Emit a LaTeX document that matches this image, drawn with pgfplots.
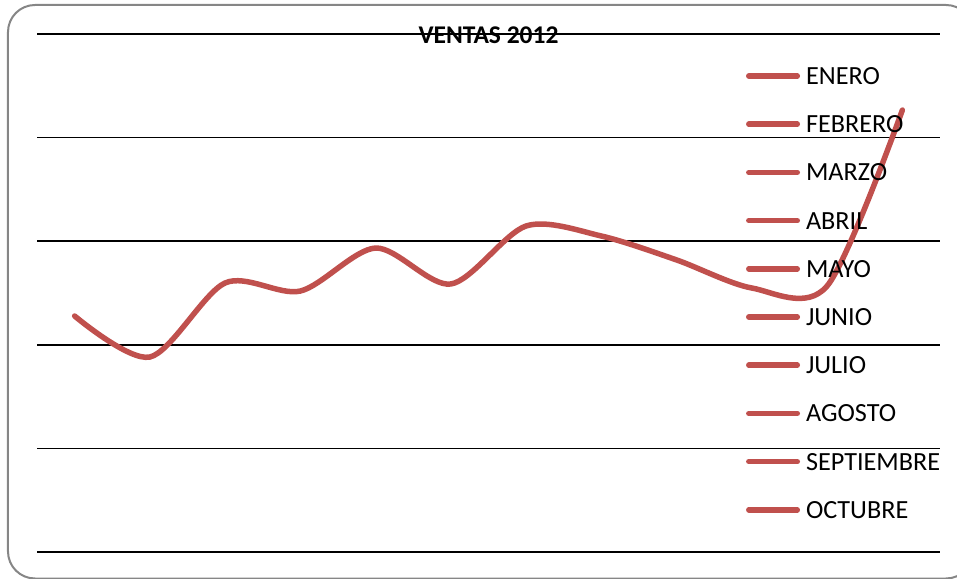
\documentclass[border=0pt]{standalone}
\usepackage{pgfplots}
\pgfplotsset{compat=1.18}
\usepackage{fontspec}
\setmainfont{Carlito}

\definecolor{serie}{HTML}{C0504D}
\definecolor{marco}{HTML}{868686}

\begin{document}
\begin{tikzpicture}[x=1pt,y=1pt]
% chart frame (rounded, partly outside the page on the right and bottom)
\begin{scope}
  \clip (-37,-26) rectangle (920,552);
  \draw[marco, line width=2pt, rounded corners=27pt] (-29,-26.5) rectangle (936,547);
\end{scope}
\begin{axis}[
  at={(0,0)}, anchor=south west,
  scale only axis, width=903pt, height=518pt,
  xmin=0.5, xmax=12.5, ymin=0, ymax=50,
  axis line style={draw=none},
  tick style={draw=none},
  ytick={0,10,...,50}, yticklabels={}, xtick=\empty,
  ymajorgrids,
  major grid style={black, line width=1.6pt},
  clip=false,
  title={\bfseries VENTAS 2012},
  title style={at={(0.5,0.9705)}, anchor=base, inner sep=0pt, font=\fontsize{25.5}{30}\selectfont},
  legend cell align=left,
  legend image code/.code={\draw[#1] (2.75pt,0pt) -- (51.25pt,0pt);},
  legend style={
    at={(0.7852,0.9353)}, anchor=north west,
    draw=none, fill=none, inner sep=0pt, outer sep=0pt,
    row sep=31.2pt, column sep=6pt,
    font=\fontsize{26.2}{30}\selectfont,
    nodes={inner sep=0pt, text height=17pt, text depth=0pt},
  },
]
\addplot[serie, line width=5.5pt, line cap=round, smooth, tension=0.5] coordinates {
  (1,22.78) (2,18.82) (3,25.97) (4,25.19) (5,29.34) (6,25.87)
  (7,31.47) (8,30.50) (9,28.19) (10,25.48) (11,25.68) (12,42.66)
};
\addlegendentry{ENERO}
\addlegendimage{serie, line width=5.5pt, line cap=round}\addlegendentry{FEBRERO}
\addlegendimage{serie, line width=5.5pt, line cap=round}\addlegendentry{MARZO}
\addlegendimage{serie, line width=5.5pt, line cap=round}\addlegendentry{ABRIL}
\addlegendimage{serie, line width=5.5pt, line cap=round}\addlegendentry{MAYO}
\addlegendimage{serie, line width=5.5pt, line cap=round}\addlegendentry{JUNIO}
\addlegendimage{serie, line width=5.5pt, line cap=round}\addlegendentry{JULIO}
\addlegendimage{serie, line width=5.5pt, line cap=round}\addlegendentry{AGOSTO}
\addlegendimage{serie, line width=5.5pt, line cap=round}\addlegendentry{SEPTIEMBRE}
\addlegendimage{serie, line width=5.5pt, line cap=round}\addlegendentry{OCTUBRE}
\end{axis}
\pgfresetboundingbox
\useasboundingbox (-37,-26) rectangle (920,552);
\end{tikzpicture}
\end{document}
